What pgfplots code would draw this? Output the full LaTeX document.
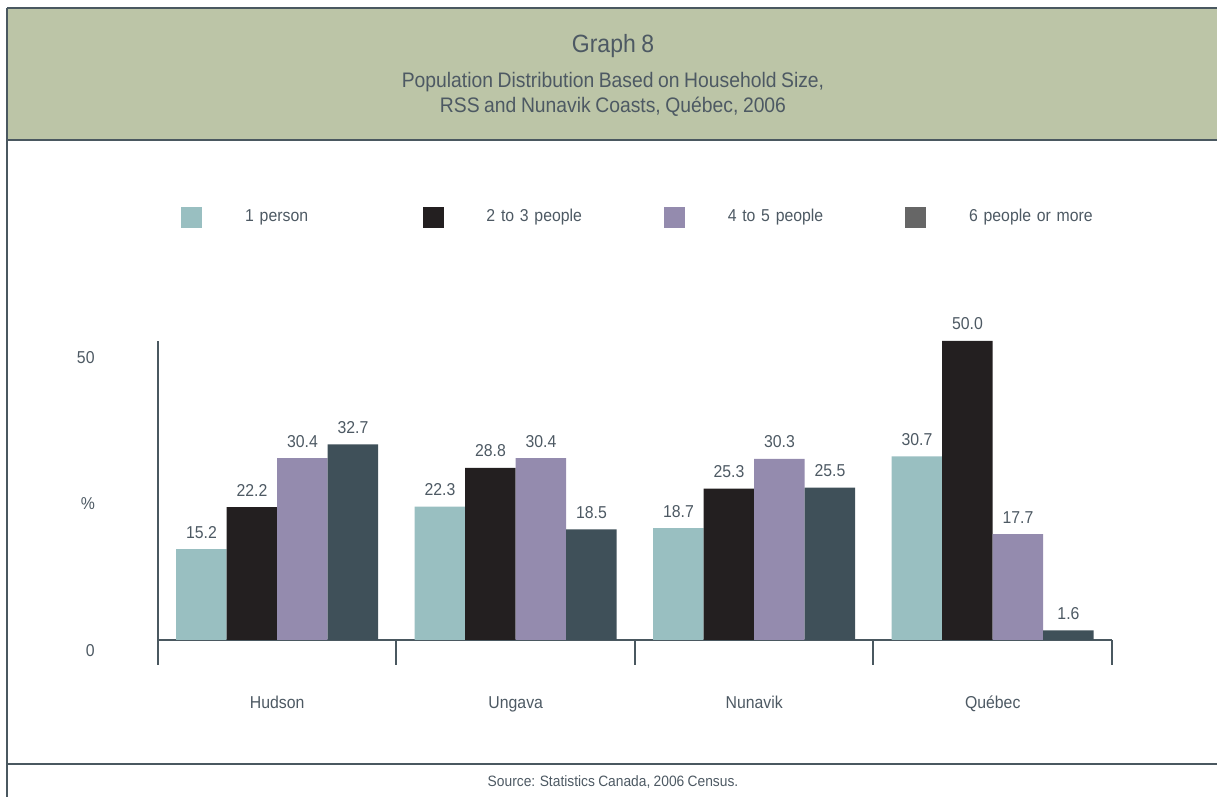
\documentclass[border=0pt]{standalone}
\usepackage{fontspec}
\setmainfont{Liberation Sans}[FakeStretch=0.92,WordSpace=0.85]
\usepackage{pgfplots}
\pgfplotsset{compat=1.18}

\definecolor{c1}{HTML}{99BFC1}
\definecolor{c2}{HTML}{231F20}
\definecolor{c3}{HTML}{948BAE}
\definecolor{c4}{HTML}{3F5059}
\definecolor{c4leg}{HTML}{666666}
\definecolor{hdr}{HTML}{BCC5A7}
\definecolor{linecol}{HTML}{4A5860}
\definecolor{txtcol}{HTML}{4D5963}

\newcommand{\lblfont}{\fontsize{8.6}{10}\selectfont}
\pgfplotsset{legsq/.style={legend image code/.code={\fill[#1] (0pt,-5pt) rectangle (10pt,5pt);}}}

\begin{document}
\color{txtcol}
\begin{tikzpicture}
\useasboundingbox (-79pt,-78.5pt) rectangle (529.5pt,320pt);
% header band and frame
\fill[hdr] (-75.5pt,250pt) rectangle (529.5pt,316pt);
\draw[linecol,line width=1.25pt] (-75.5pt,316pt) -- (529.5pt,316pt);
\draw[linecol,line width=1.25pt] (-75.5pt,250pt) -- (529.5pt,250pt);
\draw[linecol,line width=1.25pt] (-75.5pt,-62pt) -- (529.5pt,-62pt);
\draw[linecol,line width=1pt] (-75.5pt,316pt) -- (-75.5pt,-78.5pt);
\node[anchor=base,font=\fontsize{12.5}{14}\selectfont] at (227.5pt,293.5pt) {Graph 8};
\node[anchor=base,font=\fontsize{10.5}{12}\selectfont] at (227.5pt,276pt) {Population Distribution Based on Household Size,};
\node[anchor=base,font=\fontsize{10.5}{12}\selectfont] at (227.5pt,263.5pt) {RSS and Nunavik Coasts, Québec, 2006};
\node[anchor=base,font=\fontsize{7.5}{9}\selectfont] at (227.5pt,-73.5pt) {Source: Statistics Canada, 2006 Census.};

\begin{axis}[
  width=477pt,height=149.5pt,scale only axis,
  ybar=0pt,bar width=25.25pt,
  xmin=-0.5,xmax=3.5,ymin=0,ymax=50,
  clip=false,
  /pgf/number format/assume math mode=true,
  axis x line=bottom,axis y line=left,
  axis line style={-,draw=linecol,line width=1pt},
  major tick length=0pt,
  tick style={draw=linecol,line width=1pt},
  xtick={0,1,2,3},
  xticklabels={Hudson,Ungava,Nunavik,Québec},
  x tick label style={font=\lblfont,anchor=base,yshift=-34.5pt},
  extra x ticks={-0.5,0.5,1.5,2.5,3.5},
  extra x tick labels={},
  extra x tick style={major tick length=12.5pt,tick align=outside},
  ytick={0,50},
  yticklabels={{\raisebox{1.5pt}{0}},{\raisebox{-1.5pt}{50}}},
  y tick label style={font=\lblfont,anchor=base east,inner sep=0pt,xshift=-31.5pt,yshift=-10pt},
  ylabel={\%},
  every axis y label/.style={at={(axis description cs:0,0.5)},anchor=center,xshift=-35pt,yshift=-6.5pt,font=\lblfont},
  nodes near coords={\pgfmathprintnumber[fixed,fixed zerofill,precision=1]{\pgfplotspointmeta}},
  nodes near coords style={font=\lblfont,anchor=base,inner sep=0pt,yshift=5.5pt,text=txtcol},
  legend columns=4,
  legend cell align=left,
  legend style={at={(axis description cs:0.02411,1.4147)},anchor=west,draw=none,fill=none,
    inner sep=0pt,font=\lblfont,
    nodes={inner sep=0pt,text width=88.75pt,align=left},
    /tikz/every odd column/.append style={column sep=21.5pt}},
]
\addplot[fill=c1,draw=none,forget plot,bar shift=-37.875pt] coordinates {(0,15.2) (1,22.3) (2,18.7) (3,30.7)};
\addplot[fill=c2,draw=none,forget plot,bar shift=-12.625pt] coordinates {(0,22.2) (1,28.8) (2,25.3) (3,50.0)};
\addplot[fill=c3,draw=none,forget plot,bar shift=12.625pt] coordinates {(0,30.4) (1,30.4) (2,30.3) (3,17.7)};
\addplot[fill=c4,draw=none,forget plot,bar shift=37.875pt] coordinates {(0,32.7) (1,18.5) (2,25.5) (3,1.6)};
\addlegendimage{legsq=c1}
\addlegendentry{1 person}
\addlegendimage{legsq=c2}
\addlegendentry{2 to 3 people}
\addlegendimage{legsq=c3}
\addlegendentry{4 to 5 people}
\addlegendimage{legsq=c4leg}
\addlegendentry{6 people or more}
\end{axis}
\end{tikzpicture}
\end{document}
